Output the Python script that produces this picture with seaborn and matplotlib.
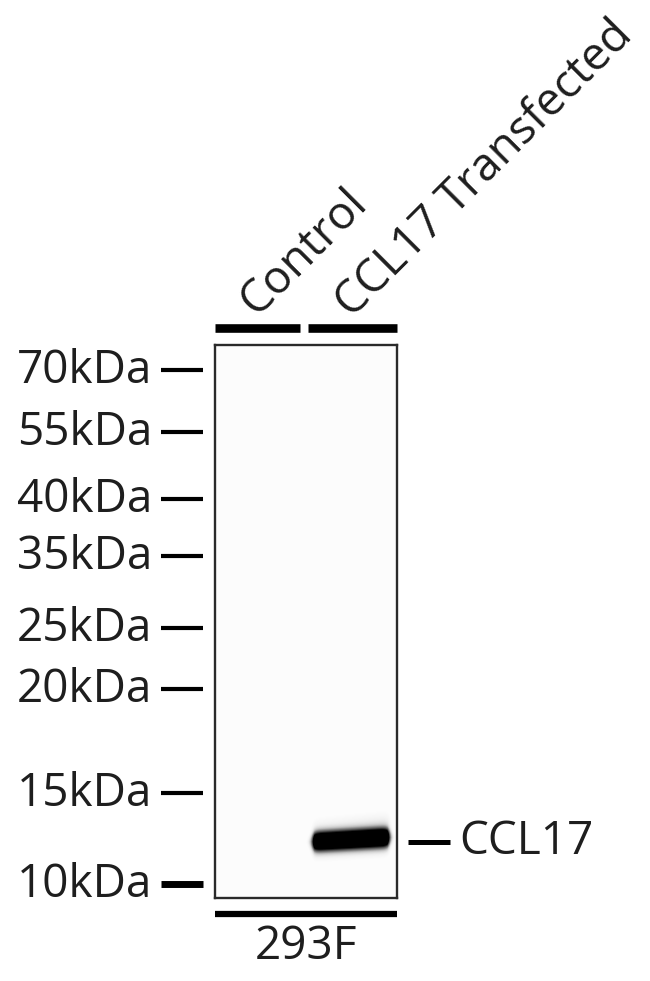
import numpy as np
import matplotlib
matplotlib.use("Agg")
import matplotlib.pyplot as plt
import seaborn as sns

sns.set_theme(style="white")
plt.rcParams['font.family'] = ['Open Sans', 'DejaVu Sans']

# ---- data ----
marker_labels = ["70kDa", "55kDa", "40kDa", "35kDa", "25kDa", "20kDa", "15kDa", "10kDa"]
marker_kda = [70, 55, 40, 35, 25, 20, 15, 10]
lane_labels = ["Control", "CCL17 Transfected"]
band_intensity = [0.0, 1.0]   # per lane
band_kda = 12
band_label = "CCL17"
cell_line = "293F"

# ---- layout (pixels) ----
W, H = 650, 981
marker_y = [370, 432, 499, 556, 628, 689, 793, 884]
bx0, by0, bx1, by1 = 215, 345, 397, 898
lane_x = [(215, 300), (308, 397)]
lane_label_dx = [41, 44]
lane_label_y = [317, 319]
FS = 33
TXT = "#1e1e1e"

fig = plt.figure(figsize=(W / 100, H / 100), dpi=100)
ax = fig.add_axes([0, 0, 1, 1])
ax.set_xlim(0, W)
ax.set_ylim(H, 0)
ax.axis("off")

# band y from marker calibration (log kDa)
band_y = float(np.interp(-np.log(band_kda), -np.log(marker_kda), marker_y))

# ---- blot image ----
xs = np.arange(bx0, bx1) + 0.5
ys = np.arange(by0, by1) + 0.5
X, Y = np.meshgrid(xs, ys)
img = np.full(X.shape, 0.03)
for (lx0, lx1), v in zip(lane_x, band_intensity):
    if v <= 0:
        continue
    xl = lx0 + 4.5
    xr = lx1 - 7.5
    xc = 0.5 * (xl + xr)
    h = 0.5 * (np.tanh((X - xl) / 3.6) - np.tanh((X - xr) / 3.6))
    yc = band_y - 3.5 - 0.055 * (X - xc)
    half = 9.8 * np.sqrt(np.clip(h, 0, 1)) + 0.01
    core = 1.0 / (1.0 + np.exp((np.abs(Y - yc) - half) / 2.3)) * np.clip(h * 1.3, 0, 1)
    halo_up = 0.15 * np.exp(-((Y - (yc - 12)) / 12.0) ** 2) * (0.5 + 0.5 * (X - xl) / (xr - xl)) * h
    halo_dn = 0.09 * np.exp(-((Y - (yc + 10)) / 9.0) ** 2) * h
    img = np.maximum(img, np.clip(v * (1.3 * core + halo_up + halo_dn), 0, 1))

bax = fig.add_axes([bx0 / W, 1 - by1 / H, (bx1 - bx0) / W, (by1 - by0) / H])
sns.heatmap(img, cmap="Greys", vmin=0, vmax=1, cbar=False,
            xticklabels=False, yticklabels=False, ax=bax, rasterized=True)
for s in bax.spines.values():
    s.set_visible(True)
    s.set_color("#2a2a2a")
    s.set_linewidth(1.7)

# ---- lane bars + labels ----
for (lx0, lx1), lab, dx, ty in zip(lane_x, lane_labels, lane_label_dx, lane_label_y):
    ax.plot([lx0, lx1], [328, 328], color="black", lw=6.2, solid_capstyle="butt")
    ax.text(lx0 + dx, ty, lab, rotation=45, rotation_mode="anchor",
            ha="left", va="baseline", fontsize=FS, color=TXT)

# ---- markers ----
for lab, y in zip(marker_labels, marker_y):
    lw = 5.0 if lab == "10kDa" else 3.0
    ax.plot([161, 203], [y, y], color="black", lw=lw, solid_capstyle="butt")
    ax.text(152, y + 1, lab, ha="right", va="center", fontsize=FS, color=TXT)

# ---- band label ----
ax.plot([408, 450], [band_y - 1, band_y - 1], color="black", lw=3.6, solid_capstyle="butt")
ax.text(459, band_y - 1, band_label, ha="left", va="center", fontsize=FS, color=TXT)

# ---- cell line ----
ax.plot([bx0, bx1], [914, 914], color="black", lw=4.5, solid_capstyle="butt")
ax.text((bx0 + bx1) / 2, 947, cell_line, ha="center", va="center", fontsize=FS, color=TXT)

fig.savefig("out.png", dpi=100, facecolor="white")
